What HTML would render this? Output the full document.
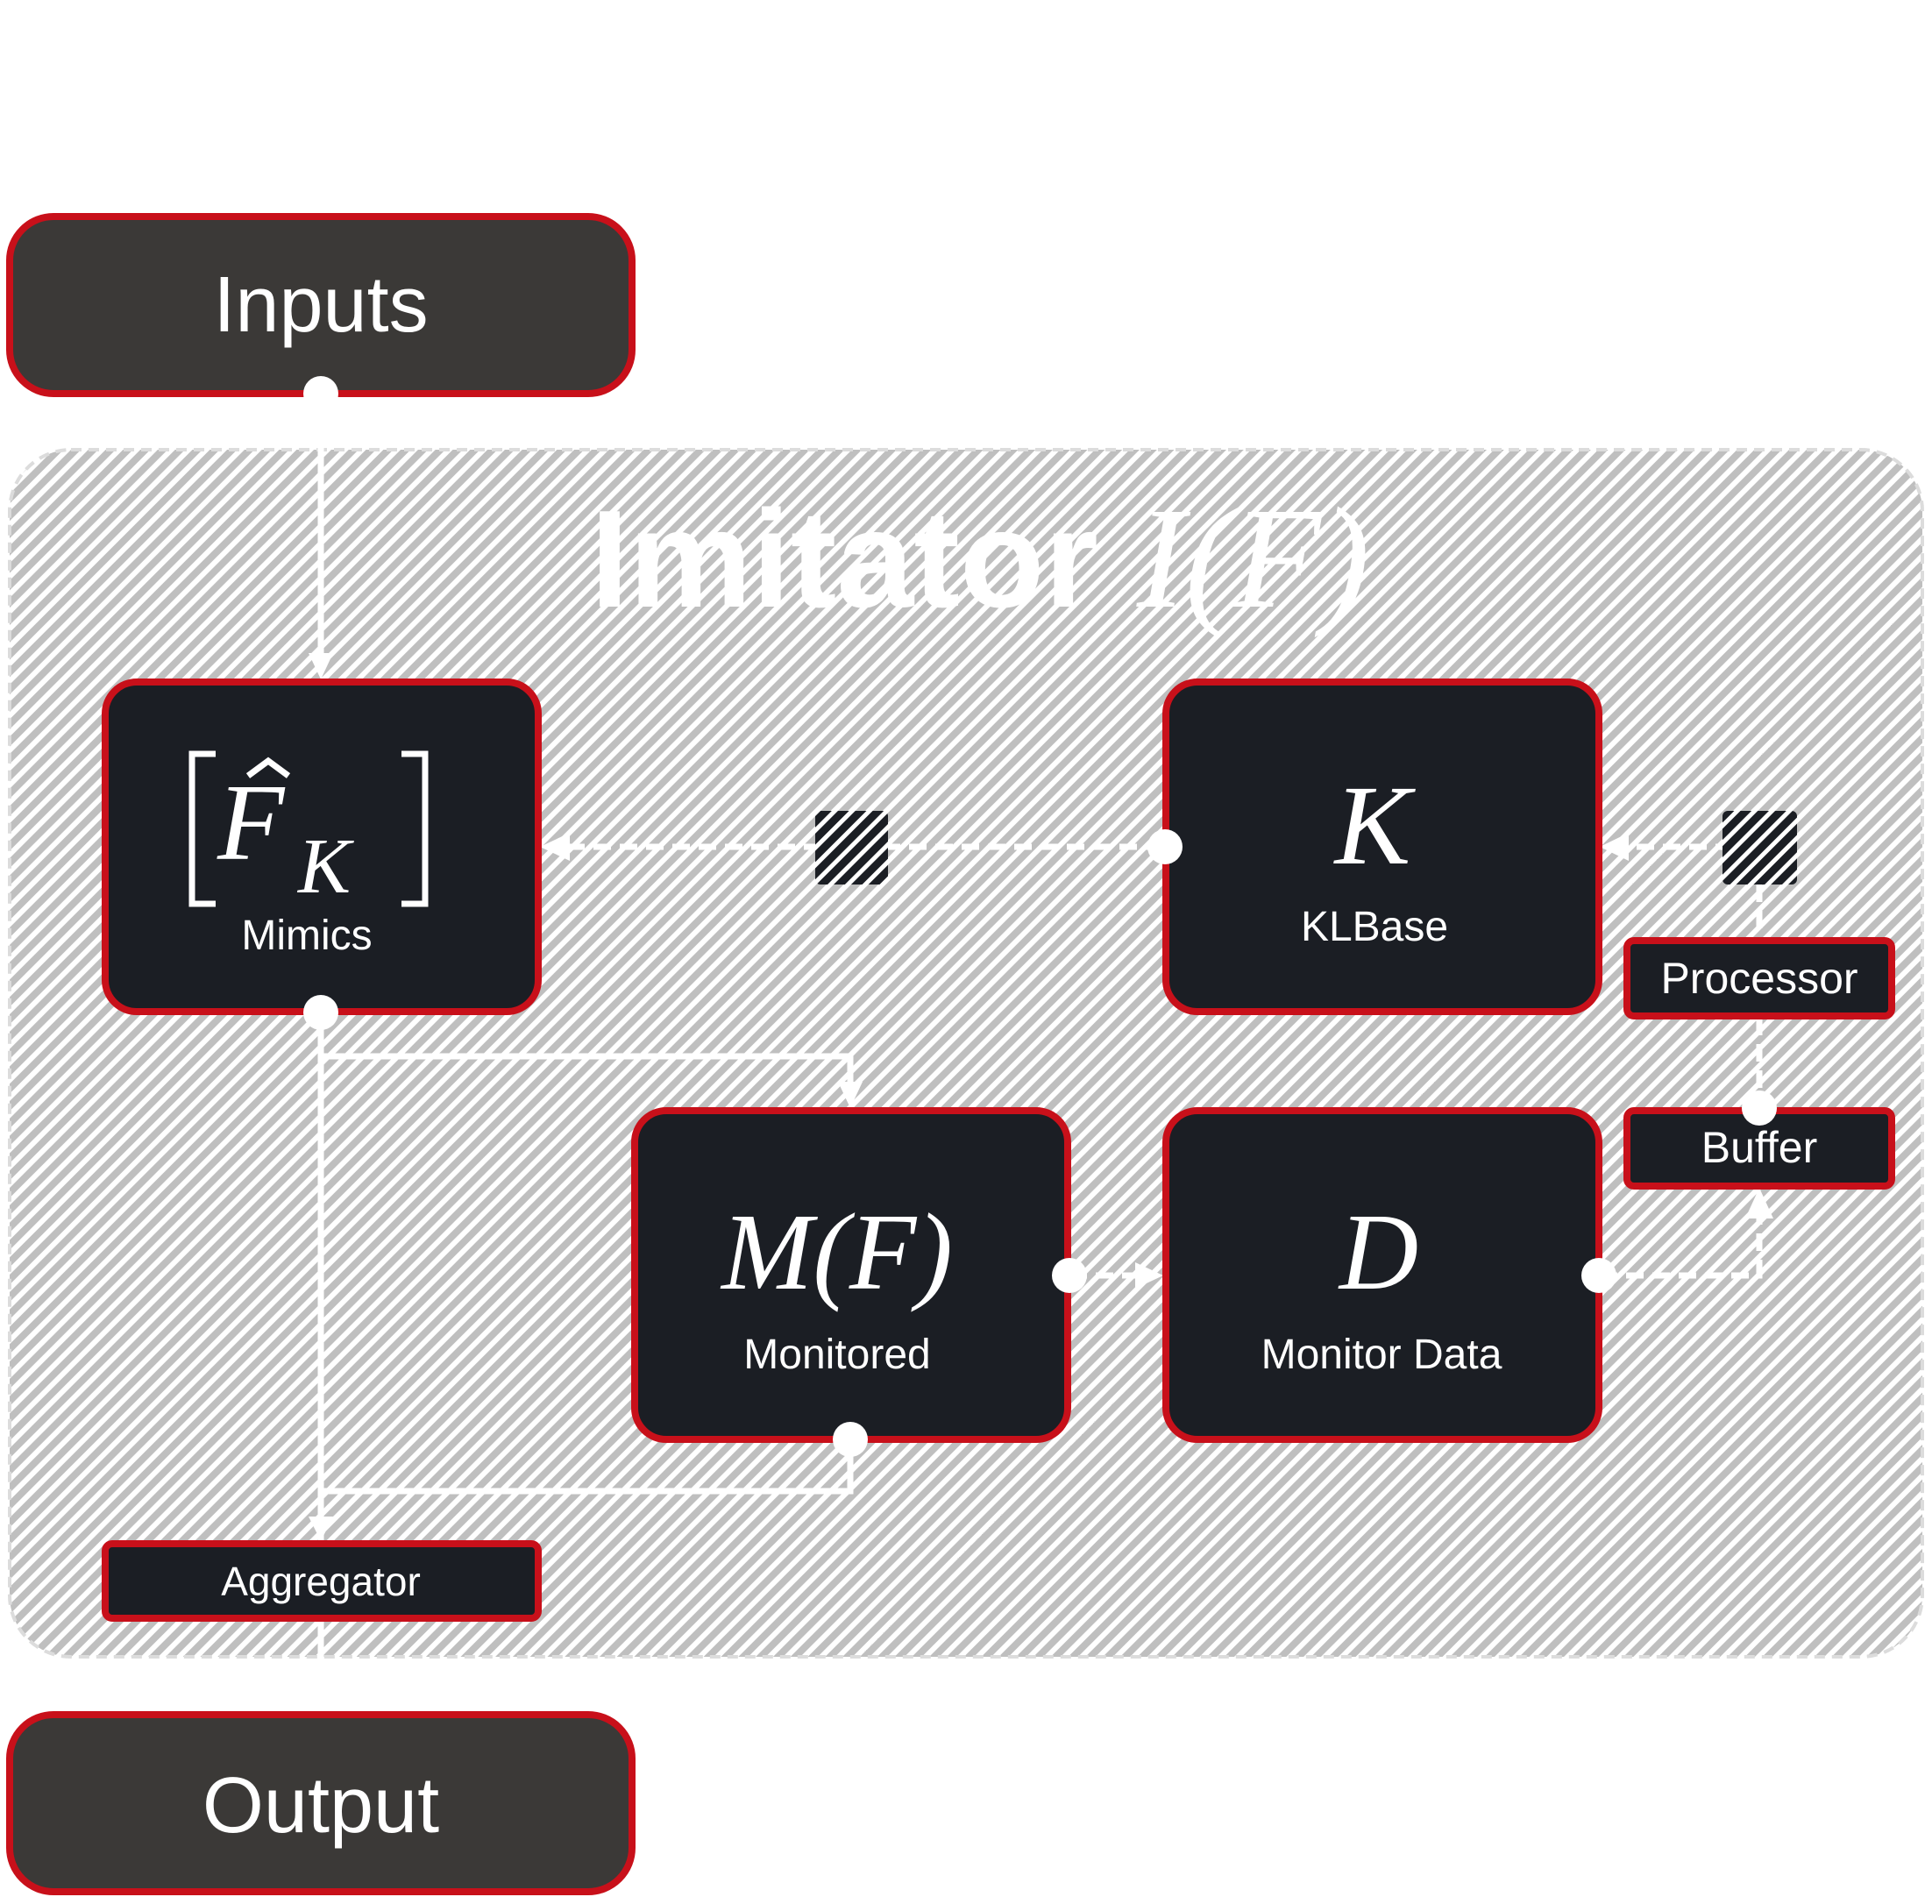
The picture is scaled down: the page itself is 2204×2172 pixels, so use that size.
<!DOCTYPE html>
<html><head><meta charset="utf-8"><style>
html,body{margin:0;padding:0;background:#fff}
svg{display:block}
text{font-family:"Liberation Sans",sans-serif;fill:#fff}
.m{font-family:"Liberation Serif",serif;font-style:italic}
</style></head><body>
<svg width="2204" height="2172" viewBox="0 0 2204 2172" xmlns="http://www.w3.org/2000/svg">
<defs>
<pattern id="h" width="14" height="14" patternUnits="userSpaceOnUse" patternTransform="rotate(45)">
<rect width="14" height="14" fill="#fff"/><rect width="8" height="14" fill="#bfbfbf"/>
</pattern>
<pattern id="hd" width="14" height="14" patternUnits="userSpaceOnUse" patternTransform="rotate(45)">
<rect width="14" height="14" fill="#fff"/><rect width="9" height="14" fill="#1b1e24"/>
</pattern>
</defs>
<!-- container -->
<rect x="11" y="513" width="2182" height="1377" rx="70" fill="url(#h)" stroke="#dcdcdc" stroke-width="4" stroke-dasharray="12 8"/>
<text x="1118" y="692" text-anchor="middle" font-size="158" font-weight="bold">Imitator <tspan class="m" font-weight="normal" font-size="165">I(F)</tspan></text>

<!-- solid connectors -->
<g stroke="#fff" stroke-width="7" fill="none">
<line x1="366" y1="450" x2="366" y2="760"/>
<line x1="366" y1="1157" x2="366" y2="1952"/>
<polyline points="366,1205 970,1205 970,1250"/>
<polyline points="970,1642 970,1701 366,1701"/>
</g>
<g fill="#fff">
<polygon points="352,745 380,745 366,775"/>
<polygon points="956,1234 984,1234 970,1264"/>
<polygon points="352,1730 380,1730 366,1758"/>
</g>
<!-- dashed connectors -->
<g stroke="#fff" stroke-width="7" fill="none" stroke-dasharray="20 10">
<line x1="1327" y1="966" x2="640" y2="966"/>
<line x1="2007" y1="966" x2="1850" y2="966"/>
<line x1="2007" y1="1009" x2="2007" y2="1070"/>
<line x1="2007" y1="1161" x2="2007" y2="1264"/>
<polyline points="1825,1455 2007,1455 2007,1385"/>
<line x1="1220" y1="1455" x2="1305" y2="1455"/>
</g>
<g fill="#fff">
<polygon points="616,966 650,950 650,982"/>
<polygon points="1825,966 1858,950 1858,982"/>
<polygon points="2007,1355 1991,1390 2023,1390"/>
<polygon points="1327,1455 1295,1440 1295,1470"/>
</g>
<rect x="930" y="925" width="83" height="84" rx="6" fill="url(#hd)"/>
<rect x="1965" y="925" width="85" height="84" rx="6" fill="url(#hd)"/>

<!-- top/bottom boxes -->
<rect x="11" y="247" width="710" height="202" rx="50" fill="#3b3937" stroke="#c8101a" stroke-width="8"/>
<text x="366" y="378" text-anchor="middle" font-size="90">Inputs</text>
<rect x="11" y="1956" width="710" height="202" rx="50" fill="#3b3937" stroke="#c8101a" stroke-width="8"/>
<text x="366" y="2090" text-anchor="middle" font-size="90">Output</text>

<!-- main nodes -->
<g fill="#1b1e24" stroke="#c8101a" stroke-width="8">
<rect x="120" y="778" width="494" height="376" rx="36"/>
<rect x="1330" y="778" width="494" height="376" rx="36"/>
<rect x="724" y="1267" width="494" height="375" rx="36"/>
<rect x="1330" y="1267" width="494" height="375" rx="36"/>
<rect x="1856" y="1073" width="302" height="86" rx="8"/>
<rect x="1856" y="1267" width="302" height="86" rx="8"/>
<rect x="120" y="1761" width="494" height="85" rx="8"/>
</g>
<g stroke="#fff" stroke-width="7" fill="none">
<polyline points="246,860 219,860 219,1031 246,1031"/>
<polyline points="458,860 485,860 485,1031 458,1031"/>
<polyline points="283,885 306,868 329,885"/>
</g>
<text x="248" y="980" class="m" font-size="125">F</text>
<text x="340" y="1018" class="m" font-size="90">K</text>
<text x="350" y="1083" text-anchor="middle" font-size="48">Mimics</text>
<text x="1566" y="985" text-anchor="middle" class="m" font-size="130">K</text>
<text x="1568" y="1073" text-anchor="middle" font-size="48">KLBase</text>
<text x="955" y="1470" text-anchor="middle" class="m" font-size="125">M(F)</text>
<text x="955" y="1561" text-anchor="middle" font-size="48">Monitored</text>
<text x="1573" y="1470" text-anchor="middle" class="m" font-size="125">D</text>
<text x="1576" y="1561" text-anchor="middle" font-size="48">Monitor Data</text>
<text x="2007" y="1133" text-anchor="middle" font-size="50">Processor</text>
<text x="2007" y="1326" text-anchor="middle" font-size="50">Buffer</text>
<text x="366" y="1820" text-anchor="middle" font-size="46">Aggregator</text>

<!-- dots -->
<g fill="#fff">
<circle cx="366" cy="449" r="20"/>
<circle cx="366" cy="1155" r="20"/>
<circle cx="1329" cy="966" r="20"/>
<circle cx="970" cy="1642" r="20"/>
<circle cx="1220" cy="1455" r="20"/>
<circle cx="1824" cy="1455" r="20"/>
<circle cx="2007" cy="1264" r="20"/>
</g>
</svg>
</body></html>
